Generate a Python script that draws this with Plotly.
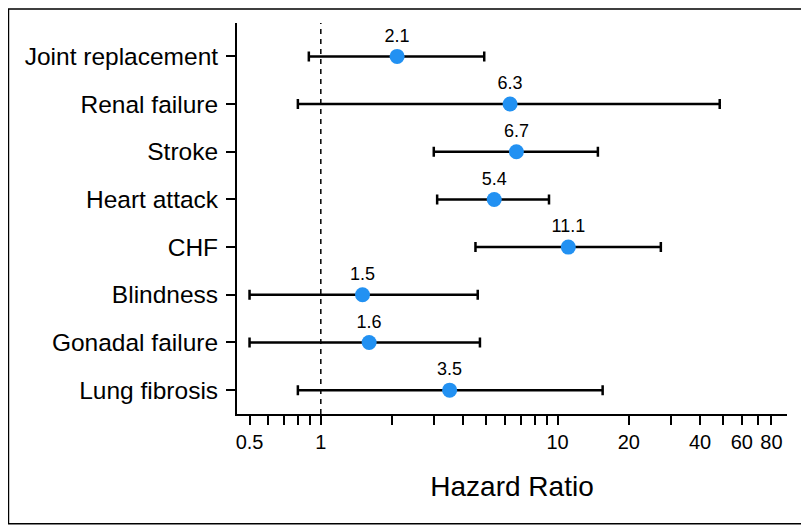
import plotly.graph_objects as go

categories = ["Joint replacement", "Renal failure", "Stroke", "Heart attack",
              "CHF", "Blindness", "Gonadal failure", "Lung fibrosis"]
hr = [2.1, 6.3, 6.7, 5.4, 11.1, 1.5, 1.6, 3.5]
ci_low = [0.89, 0.8, 3.0, 3.1, 4.5, 0.5, 0.5, 0.8]
ci_high = [4.9, 48.4, 14.8, 9.2, 27.3, 4.6, 4.7, 15.5]
hr_labels = ["2.1", "6.3", "6.7", "5.4", "11.1", "1.5", "1.6", "3.5"]

tick_vals = [0.5, 0.6, 0.7, 0.8, 0.9, 1, 2, 3, 4, 5, 6, 7, 8, 9, 10,
             20, 30, 40, 50, 60, 70, 80]
tick_text = ["0.5", "", "", "", "", "1", "", "", "", "", "", "", "", "", "10",
             "20", "", "40", "", "60", "", "80"]

n = len(categories)
ypos = [n - i for i in range(n)]

FONT = "Liberation Sans, Arial, sans-serif"

fig = go.Figure()
fig.add_trace(go.Scatter(
    x=hr, y=ypos,
    mode="markers+text",
    text=hr_labels,
    textposition="top center",
    textfont=dict(family=FONT, size=18, color="black"),
    marker=dict(size=15, color="#2291f2"),
    error_x=dict(type="data", symmetric=False,
                 array=[h - m for h, m in zip(ci_high, hr)],
                 arrayminus=[m - l for m, l in zip(hr, ci_low)],
                 color="black", thickness=2.5, width=5),
    showlegend=False,
    cliponaxis=False,
))

fig.add_shape(type="line", xref="x", yref="paper", x0=1, x1=1, y0=0, y1=1,
              line=dict(color="black", width=1.5, dash="5px,5px"))

# outer border
fig.add_shape(type="rect", xref="paper", yref="paper",
              x0=-0.4155, x1=1.036, y0=-0.2809, y1=1.0358,
              line=dict(color="black", width=1.5))

fig.update_layout(
    width=801, height=518,
    margin=dict(l=229, r=22, t=14.5, b=112),
    plot_bgcolor="white", paper_bgcolor="white",
    font=dict(family=FONT, color="black"),
    xaxis=dict(
        type="log", range=[-0.354, 1.969],
        tickmode="array", tickvals=tick_vals, ticktext=tick_text,
        ticks="outside", ticklen=9, tickwidth=1.5, tickcolor="black",
        showline=True, linecolor="black", linewidth=2,
        showgrid=False, zeroline=False,
        tickfont=dict(family=FONT, size=20),
        title=dict(text="Hazard Ratio", font=dict(family=FONT, size=28), standoff=24),
    ),
    yaxis=dict(
        range=[0.5, 8.7],
        tickmode="array", tickvals=ypos, ticktext=categories,
        ticks="outside", ticklen=9, tickwidth=1.5, tickcolor="black",
        showline=True, linecolor="black", linewidth=2,
        showgrid=False, zeroline=False,
        tickfont=dict(family=FONT, size=24.5),
        ticklabelstandoff=3,
    ),
)

fig.write_html("out.html")
